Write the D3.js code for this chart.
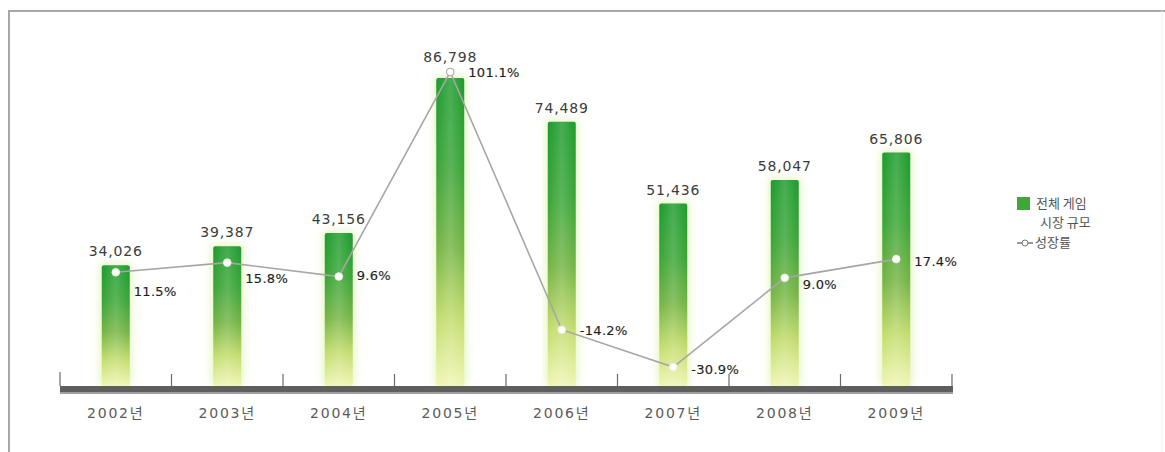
<!DOCTYPE html>
<html>
<head>
<meta charset="utf-8">
<script src="https://cdn.jsdelivr.net/npm/d3@7"></script>
<style>
  html, body { margin: 0; padding: 0; background: #fff; }
  svg { display: block; }
</style>
</head>
<body>
<svg id="chart" width="1165" height="452"></svg>
<script>
// 연도별 게임 시장 규모(억 원)와 성장률(%)
const years = ["2002년", "2003년", "2004년", "2005년", "2006년", "2007년", "2008년", "2009년"];
const marketSize = [34026, 39387, 43156, 86798, 74489, 51436, 58047, 65806];
const growthRate = [11.5, 15.8, 9.6, 101.1, -14.2, -30.9, 9.0, 17.4];
const legendLabels = [["전체 게임", "시장 규모"], ["성장률"]];

// 성장률 라벨의 세로 위치 보정(px)
const growthLabelDy = [20, 17, 0, 2, 2, 3, 8, 3];

const svg = d3.select("#chart");
const W = 1165, H = 452;
const baseY = 386;

const fontNum = "'DejaVu Sans', 'Noto Sans CJK KR', sans-serif";

// 바깥 테두리(위, 왼쪽)
svg.append("path")
  .attr("d", `M9,${H} L9,11 L${W},11`)
  .attr("fill", "none")
  .attr("stroke", "#a8a8a8")
  .attr("stroke-width", 2);
svg.append("line")
  .attr("x1", W - 3).attr("x2", W - 3).attr("y1", 11).attr("y2", H)
  .attr("stroke", "#f2f2f2").attr("stroke-width", 1);

const x = d3.scaleBand().domain(years).range([60, 952]).padding(0);
const yBar = d3.scaleLinear().domain([0, 100000]).range([baseY, 31.2]);
const yRate = d3.scaleLinear().domain([-40, 110]).range([387.4, 52.1]);
const cx = d => x(d) + x.bandwidth() / 2;
const barW = 28;

const defs = svg.append("defs");
const grad = defs.append("linearGradient")
  .attr("id", "barGrad").attr("x1", 0).attr("y1", 0).attr("x2", 0).attr("y2", 1);
[[0, "#1c9b2c"], [0.3, "#3aa536"], [0.55, "#74b444"], [0.78, "#c2dc6c"], [1, "#f0f6b4"]]
  .forEach(([o, c]) => grad.append("stop").attr("offset", o).attr("stop-color", c));

const hl = defs.append("linearGradient")
  .attr("id", "barShine").attr("x1", 0).attr("y1", 0).attr("x2", 1).attr("y2", 0);
[[0, "#ffffff", 0], [0.5, "#ffffff", 0.18], [1, "#ffffff", 0]]
  .forEach(([o, c, a]) => hl.append("stop").attr("offset", o).attr("stop-color", c).attr("stop-opacity", a));

defs.append("filter").attr("id", "glow")
  .attr("x", "-50%").attr("y", "-10%").attr("width", "200%").attr("height", "120%")
  .append("feGaussianBlur").attr("stdDeviation", 4);

const bars = svg.append("g");
// 막대 주위의 옅은 번짐
bars.selectAll("rect.halo")
  .data(years)
  .join("rect")
  .attr("class", "halo")
  .attr("x", d => cx(d) - barW / 2 - 2)
  .attr("y", (d, i) => yBar(marketSize[i]) - 2)
  .attr("width", barW + 4)
  .attr("height", (d, i) => baseY - yBar(marketSize[i]) + 2)
  .attr("fill", "#c8eb7a")
  .attr("opacity", 0.45)
  .attr("filter", "url(#glow)");

bars.selectAll("rect.bar")
  .data(years)
  .join("rect")
  .attr("class", "bar")
  .attr("x", d => cx(d) - barW / 2)
  .attr("y", (d, i) => yBar(marketSize[i]))
  .attr("width", barW)
  .attr("height", (d, i) => baseY - yBar(marketSize[i]))
  .attr("rx", 2)
  .attr("fill", "url(#barGrad)");

bars.selectAll("rect.shine")
  .data(years)
  .join("rect")
  .attr("class", "shine")
  .attr("x", d => cx(d) - barW / 2)
  .attr("y", (d, i) => yBar(marketSize[i]))
  .attr("width", barW)
  .attr("height", (d, i) => baseY - yBar(marketSize[i]))
  .attr("fill", "url(#barShine)");

// 가로축과 눈금
const axisG = svg.append("g");
const bounds = years.map(d => x(d)).concat([x.range()[1]]);
axisG.selectAll("line.tick")
  .data(bounds)
  .join("line")
  .attr("class", "tick")
  .attr("x1", d => d).attr("x2", d => d)
  .attr("y1", (d, i) => i === 0 ? 372 : 374)
  .attr("y2", baseY)
  .attr("stroke", "#6a6a6a")
  .attr("stroke-width", 1.2);
axisG.append("rect")
  .attr("x", x.range()[0]).attr("y", baseY)
  .attr("width", x.range()[1] - x.range()[0] + 1).attr("height", 7)
  .attr("fill", "#5e5e5e");
axisG.append("rect")
  .attr("x", x.range()[0]).attr("y", baseY + 6)
  .attr("width", x.range()[1] - x.range()[0] + 1).attr("height", 2)
  .attr("fill", "#a0a0a0");

axisG.selectAll("text.cat")
  .data(years)
  .join("text")
  .attr("class", "cat")
  .attr("x", d => cx(d))
  .attr("y", 414)
  .attr("text-anchor", "middle")
  .attr("dominant-baseline", "middle")
  .attr("font-family", fontNum)
  .attr("font-size", 14)
  .attr("letter-spacing", 1.8)
  .attr("fill", "#5a5a5a")
  .text(d => d);

// 성장률 꺾은선
const line = d3.line()
  .x((d, i) => cx(years[i]))
  .y(d => yRate(d));
svg.append("path")
  .datum(growthRate)
  .attr("d", line)
  .attr("fill", "none")
  .attr("stroke", "#a6a6a6")
  .attr("stroke-width", 1.6);

// 막대 안쪽의 점은 흰 점으로, 바깥쪽의 점은 회색 테두리로
svg.selectAll("circle.pt")
  .data(growthRate)
  .join("circle")
  .attr("class", "pt")
  .attr("cx", (d, i) => cx(years[i]))
  .attr("cy", d => yRate(d))
  .attr("r", 3.8)
  .attr("fill", "#ffffff")
  .attr("stroke", (d, i) => yRate(d) > yBar(marketSize[i]) + 4 ? "#e8f5d8" : "#a0a0a0")
  .attr("stroke-width", 1);

// 시장 규모 값 라벨
svg.selectAll("text.val")
  .data(marketSize)
  .join("text")
  .attr("class", "val")
  .attr("x", (d, i) => cx(years[i]))
  .attr("y", (d, i) => Math.min(yBar(d), yRate(growthRate[i]) - 1) - 9)
  .attr("text-anchor", "middle")
  .attr("font-family", fontNum)
  .attr("font-size", 14)
  .attr("letter-spacing", 0.8)
  .attr("fill", "#3c3c3c")
  .text(d => d3.format(",")(d));

// 성장률 값 라벨
svg.selectAll("text.rate")
  .data(growthRate)
  .join("text")
  .attr("class", "rate")
  .attr("x", (d, i) => cx(years[i]) + 18)
  .attr("y", (d, i) => yRate(d) + growthLabelDy[i])
  .attr("dominant-baseline", "middle")
  .attr("font-family", fontNum)
  .attr("font-size", 13)
  .attr("letter-spacing", 0.3)
  .attr("fill", "#1e1e1e")
  .attr("stroke", "#1e1e1e")
  .attr("stroke-width", 0.15)
  .text(d => (d < 0 ? "-" : "") + Math.abs(d).toFixed(1) + "%");

// 범례
const lg = svg.append("g").attr("transform", "translate(1017,0)");
lg.append("rect")
  .attr("x", 0).attr("y", 197).attr("width", 13).attr("height", 13)
  .attr("fill", "#3fa637");
lg.append("text")
  .attr("x", 19).attr("y", 204)
  .attr("dominant-baseline", "middle")
  .attr("font-family", "'Noto Sans CJK KR', sans-serif")
  .attr("font-size", 13)
  .attr("fill", "#555")
  .text(legendLabels[0][0]);
lg.append("text")
  .attr("x", 23).attr("y", 223)
  .attr("dominant-baseline", "middle")
  .attr("font-family", "'Noto Sans CJK KR', sans-serif")
  .attr("font-size", 13)
  .attr("fill", "#555")
  .text(legendLabels[0][1]);
lg.append("line")
  .attr("x1", 0).attr("x2", 16).attr("y1", 243).attr("y2", 243)
  .attr("stroke", "#777").attr("stroke-width", 1.5);
lg.append("circle")
  .attr("cx", 8).attr("cy", 243).attr("r", 3)
  .attr("fill", "#fff").attr("stroke", "#777").attr("stroke-width", 1);
lg.append("text")
  .attr("x", 18).attr("y", 243)
  .attr("dominant-baseline", "middle")
  .attr("font-family", "'Noto Sans CJK KR', sans-serif")
  .attr("font-size", 13)
  .attr("fill", "#555")
  .text(legendLabels[1][0]);
</script>
</body>
</html>
